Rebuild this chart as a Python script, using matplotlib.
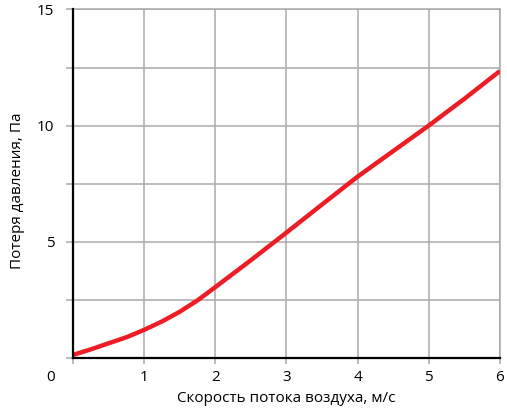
import matplotlib.pyplot as plt
import numpy as np

# Flow speed, m/s and pressure loss, Pa
speed = [0, 0.25, 0.5, 0.75, 1, 1.25, 1.5, 1.75, 2, 2.5, 3, 3.5, 4, 4.5, 5, 5.5, 6]
pressure_loss = [0.12, 0.36, 0.62, 0.88, 1.2, 1.56, 1.98, 2.47, 3.04,
                 4.2, 5.39, 6.6, 7.8, 8.9, 10.0, 11.15, 12.35]

x_ticks = [0, 1, 2, 3, 4, 5, 6]
x_labels = ["", "1", "2", "3", "4", "5", "6"]
y_ticks = [0, 2.5, 5, 7.5, 10, 12.5, 15]
y_labels = ["", "", "5", "", "10", "", "15"]

XLABEL = "Скорость потока воздуха, м/с"
YLABEL = "Потеря давления, Па"

GRID_COLOR = "#a9a9a9"
LINE_COLOR = "#ee1d25"
FS = 11

plt.rcParams["font.family"] = ["Open Sans", "DejaVu Sans"]

fig = plt.figure(figsize=(5.07, 4.09), dpi=100)
ax = fig.add_axes([0.144, 0.1254, 0.842, 0.8514])

ax.plot(speed, pressure_loss, color=LINE_COLOR, lw=3.2,
        solid_capstyle="butt", solid_joinstyle="round", zorder=3)

ax.set_xlim(0, 6)
ax.set_ylim(0, 15)
ax.set_xticks(x_ticks)
ax.set_xticklabels(x_labels)
ax.set_yticks(y_ticks)
ax.set_yticklabels(y_labels)
ax.grid(True, color=GRID_COLOR, lw=1.1)
ax.set_axisbelow(True)

for side in ["left", "bottom"]:
    ax.spines[side].set_linewidth(1.6)
    ax.spines[side].set_color("black")
    ax.spines[side].set_zorder(4)
for side in ["top", "right"]:
    ax.spines[side].set_linewidth(1.1)
    ax.spines[side].set_color(GRID_COLOR)

ax.tick_params(axis="x", length=4, width=1.1, color=GRID_COLOR, pad=4.5, labelsize=FS)
ax.tick_params(axis="y", length=5, width=1.1, color=GRID_COLOR, pad=8.5, labelsize=FS)

# origin label sits below-left of the corner
ax.annotate("0", xy=(0, 0), xytext=(-16.5, -14), textcoords="offset points",
            ha="center", va="center", fontsize=FS)

ax.set_xlabel(XLABEL, fontsize=FS, va="center")
ax.xaxis.set_label_coords(0.5, -0.116)
ax.set_ylabel(YLABEL, fontsize=FS, va="center")
ax.yaxis.set_label_coords(-0.131, 0.48)

plt.savefig("out.png", dpi=100)
plt.close()
